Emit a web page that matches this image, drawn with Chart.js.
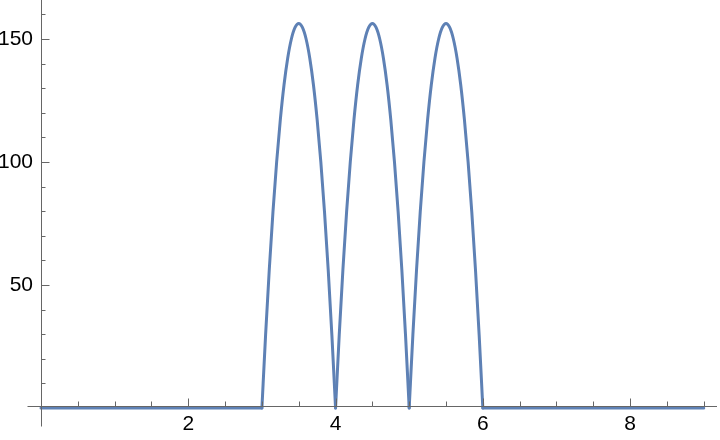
<!DOCTYPE html>
<html>
<head>
<meta charset="utf-8">
<script src="https://cdn.jsdelivr.net/npm/chart.js@4.4.1/dist/chart.umd.min.js"></script>
<style>
    html, body { margin: 0; padding: 0; background: #fff; }
    #wrap { width: 720px; height: 440px; }
</style>
</head>
<body>
<div id="wrap"><canvas id="myChart" width="720" height="440"></canvas></div>
<script>
// values: flat at 0, three arches on [3,4], [4,5], [5,6]
const baseLeftX = [0, 3];
const baseLeftY = [0, 0];
const arch1X = [3, 3.05, 3.1, 3.15, 3.2, 3.25, 3.3, 3.35, 3.4, 3.45, 3.5, 3.55, 3.6, 3.65, 3.7, 3.75, 3.8, 3.85, 3.9, 3.95, 4];
const arch1Y = [0, 29.7, 56.3, 79.7, 100, 117.2, 131.3, 142.2, 150, 154.7, 156.3, 154.7, 150, 142.2, 131.3, 117.2, 100, 79.7, 56.3, 29.7, 0];
const arch2X = [4, 4.05, 4.1, 4.15, 4.2, 4.25, 4.3, 4.35, 4.4, 4.45, 4.5, 4.55, 4.6, 4.65, 4.7, 4.75, 4.8, 4.85, 4.9, 4.95, 5];
const arch2Y = [0, 29.7, 56.3, 79.7, 100, 117.2, 131.3, 142.2, 150, 154.7, 156.3, 154.7, 150, 142.2, 131.3, 117.2, 100, 79.7, 56.3, 29.7, 0];
const arch3X = [5, 5.05, 5.1, 5.15, 5.2, 5.25, 5.3, 5.35, 5.4, 5.45, 5.5, 5.55, 5.6, 5.65, 5.7, 5.75, 5.8, 5.85, 5.9, 5.95, 6];
const arch3Y = [0, 29.7, 56.3, 79.7, 100, 117.2, 131.3, 142.2, 150, 154.7, 156.3, 154.7, 150, 142.2, 131.3, 117.2, 100, 79.7, 56.3, 29.7, 0];
const baseRightX = [6, 9];
const baseRightY = [0, 0];

const xTickLabels = [2, 4, 6, 8];
const yTickLabels = [50, 100, 150];

const axisColor = '#666666';
const lineColor = '#5E81B5';

// Mathematica style axes: crossing at the origin, ticks pointing inwards
const axesPlugin = {
    id: 'axes',
    afterDatasetsDraw(chart) {
        const { ctx, chartArea, scales: { x, y } } = chart;
        const x0 = Math.floor(x.getPixelForValue(0)) + 0.5;
        const y0 = Math.floor(y.getPixelForValue(0) - 1.5) + 0.5;
        ctx.save();
        ctx.strokeStyle = axisColor;
        ctx.lineWidth = 1;
        ctx.beginPath();
        ctx.moveTo(x0 - 14, y0);
        ctx.lineTo(chartArea.right, y0);
        ctx.moveTo(x0, chartArea.top);
        ctx.lineTo(x0, y0 + 20);
        for (let i = 1; i <= 18; i++) {
            let v = i / 2;
            let px = Math.round(x.getPixelForValue(v)) + 0.5;
            let len = xTickLabels.includes(v) ? 8 : 5;
            ctx.moveTo(px, y0);
            ctx.lineTo(px, y0 - len);
        }
        for (let v = 10; v <= 160; v += 10) {
            let py = Math.round(y.getPixelForValue(v)) + 0.5;
            let len = yTickLabels.includes(v) ? 8 : 4;
            ctx.moveTo(x0, py);
            ctx.lineTo(x0 + len, py);
        }
        ctx.stroke();
        ctx.restore();
    }
};

function piece(xs, ys) {
    return {
        data: xs.map((v, i) => ({ x: v, y: ys[i] })),
        borderColor: lineColor,
        borderWidth: 3,
        pointRadius: 0,
        cubicInterpolationMode: 'monotone',
        borderJoinStyle: 'round',
        borderCapStyle: 'round',
        clip: false
    };
}

const config = {
    type: 'line',
    data: {
        datasets: [
            piece(baseLeftX, baseLeftY),
            piece(arch1X, arch1Y),
            piece(arch2X, arch2Y),
            piece(arch3X, arch3Y),
            piece(baseRightX, baseRightY)
        ]
    },
    options: {
        responsive: false,
        animation: false,
        devicePixelRatio: 1,
        layout: { padding: { left: 0, right: 3, top: 0, bottom: 0 } },
        plugins: {
            legend: { display: false },
            tooltip: { enabled: false }
        },
        scales: {
            x: {
                type: 'linear',
                min: 0,
                max: 9.18,
                grid: { display: false, drawTicks: false },
                border: { display: false },
                ticks: {
                    color: '#000',
                    padding: 4,
                    font: { family: 'Liberation Sans', size: 21 }
                },
                afterBuildTicks: s => { s.ticks = xTickLabels.map(v => ({ value: v })); },
                afterFit: s => {
                    s.height = 32;
                    s.paddingLeft = 0; s.paddingRight = 0; s.paddingTop = 0; s.paddingBottom = 0;
                }
            },
            y: {
                type: 'linear',
                min: 0,
                max: 165.85,
                grid: { display: false, drawTicks: false },
                border: { display: false },
                ticks: {
                    color: '#000',
                    padding: 8,
                    font: { family: 'Liberation Sans', size: 21 }
                },
                afterBuildTicks: s => { s.ticks = yTickLabels.map(v => ({ value: v })); },
                afterFit: s => {
                    s.width = 41;
                    s.paddingLeft = 0; s.paddingRight = 0; s.paddingTop = 0; s.paddingBottom = 0;
                }
            }
        }
    },
    plugins: [axesPlugin]
};

const myChart = new Chart(document.getElementById('myChart'), config);
</script>
</body>
</html>
